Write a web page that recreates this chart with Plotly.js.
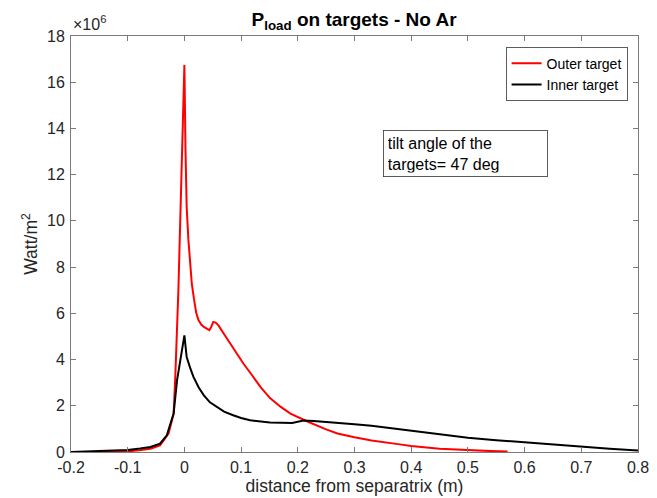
<!DOCTYPE html>
<html>
<head>
<meta charset="utf-8">
<script src="https://cdn.plot.ly/plotly-3.0.1.min.js"></script>
<style>html,body{margin:0;padding:0;background:#fff;}#chart{width:657px;height:498px;}</style>
</head>
<body>
<div id="chart"></div>
<script>
// Outer target (red), values in units of 1e6 W/m^2
var outerX = [-0.15, -0.12, -0.1, -0.08, -0.06, -0.043, -0.028, -0.019, -0.016, -0.0106, -0.0076, -0.004, 0, 0.002, 0.004, 0.007, 0.01, 0.013, 0.017, 0.021, 0.025, 0.03, 0.035, 0.044, 0.047, 0.051, 0.055, 0.06, 0.075, 0.09, 0.104, 0.12, 0.134, 0.151, 0.17, 0.187, 0.2, 0.219, 0.25, 0.27, 0.3, 0.33, 0.38, 0.4, 0.45, 0.5, 0.54, 0.57];
var outerY = [0.0, 0.01, 0.03, 0.07, 0.14, 0.29, 0.8, 1.66, 3.3, 7.0, 9.74, 13.2, 16.75, 13.0, 10.6, 9.2, 8.2, 7.3, 6.6, 6.0, 5.7, 5.5, 5.4, 5.27, 5.4, 5.63, 5.6, 5.48, 4.91, 4.35, 3.83, 3.3, 2.82, 2.33, 1.95, 1.66, 1.5, 1.3, 0.98, 0.8, 0.64, 0.5, 0.33, 0.26, 0.14, 0.07, 0.04, 0.02];
// Inner target (black)
var innerX = [-0.2, -0.15, -0.1, -0.078, -0.06, -0.043, -0.031, -0.019, -0.013, 0, 0.004, 0.01, 0.016, 0.025, 0.034, 0.045, 0.057, 0.07, 0.086, 0.1, 0.116, 0.135, 0.151, 0.19, 0.2, 0.21, 0.228, 0.26, 0.3, 0.33, 0.38, 0.4, 0.45, 0.5, 0.55, 0.6, 0.65, 0.7, 0.75, 0.8];
var innerY = [0.0, 0.03, 0.09, 0.15, 0.22, 0.36, 0.72, 1.66, 3.1, 5.05, 4.11, 3.65, 3.25, 2.8, 2.46, 2.15, 1.95, 1.75, 1.59, 1.47, 1.37, 1.32, 1.28, 1.26, 1.3, 1.36, 1.34, 1.29, 1.2, 1.14, 0.98, 0.93, 0.78, 0.62, 0.51, 0.41, 0.32, 0.22, 0.14, 0.06];
var yTicks = [0, 2, 4, 6, 8, 10, 12, 14, 16, 18];
var xTicks = [-0.2, -0.1, 0, 0.1, 0.2, 0.3, 0.4, 0.5, 0.6, 0.7, 0.8];

var FONT = '"Liberation Sans", Arial, Helvetica, sans-serif';
var TXT = '#262626';

var traces = [
  {x: outerX, y: outerY, type: 'scatter', mode: 'lines', name: 'Outer target', line: {color: '#ff0000', width: 2}},
  {x: innerX, y: innerY, type: 'scatter', mode: 'lines', name: 'Inner target', line: {color: '#000000', width: 2}}
];

var axisCommon = {
  showgrid: false, zeroline: false, showline: true, linecolor: '#7a7a7a', linewidth: 1,
  ticks: 'inside', ticklen: 5, tickcolor: '#7a7a7a', mirror: 'ticks',
  tickfont: {family: FONT, size: 16, color: TXT}
};

var layout = {
  width: 657, height: 498,
  margin: {l: 71, r: 19, t: 36, b: 46},
  paper_bgcolor: '#fff', plot_bgcolor: '#fff',
  font: {family: FONT, color: TXT},
  showlegend: true,
  title: {text: '<b>P<sub>load</sub> on targets - No Ar</b>', font: {family: FONT, size: 19, color: '#000'}, x: 0.539, xanchor: 'center', y: 0.962, yanchor: 'middle'},
  xaxis: Object.assign({}, axisCommon, {
    range: [-0.2, 0.8], tickvals: xTicks, ticktext: xTicks.map(function(v){return String(v);}),
    ticklabelstandoff: 1,
    title: {text: 'distance from separatrix (m)', font: {family: FONT, size: 17.5, color: TXT}, standoff: 1}
  }),
  yaxis: Object.assign({}, axisCommon, {
    range: [0, 18], tickvals: yTicks, ticktext: yTicks.map(function(v){return String(v);}),
    ticklabelstandoff: 2,
    title: {text: 'Watt/m<sup>2</sup>', font: {family: FONT, size: 17.5, color: TXT}, standoff: 4}
  }),
  legend: {
    x: 0.982, xanchor: 'right', y: 0.974, yanchor: 'top',
    bordercolor: '#333', borderwidth: 0.8, bgcolor: '#fff',
    font: {family: FONT, size: 14, color: '#000'},
    tracegroupgap: 0, itemwidth: 30
  },
  annotations: [
    {xref: 'paper', yref: 'paper', x: 0, y: 1, xanchor: 'left', yanchor: 'bottom', yshift: 1,
     text: '\u00d710<sup>6</sup>', showarrow: false, font: {family: FONT, size: 16, color: TXT}},
    {xref: 'paper', yref: 'paper', x: 0.551, y: 0.774, xanchor: 'left', yanchor: 'top', align: 'left',
     text: 'tilt angle of the<br>targets= 47 deg', showarrow: false,
     font: {family: FONT, size: 16, color: '#000'},
     bordercolor: '#333', borderwidth: 0.8, borderpad: 4, bgcolor: '#fff', width: 155}
  ]
};

Plotly.newPlot('chart', traces, layout, {displayModeBar: false, staticPlot: true});
</script>
</body>
</html>
